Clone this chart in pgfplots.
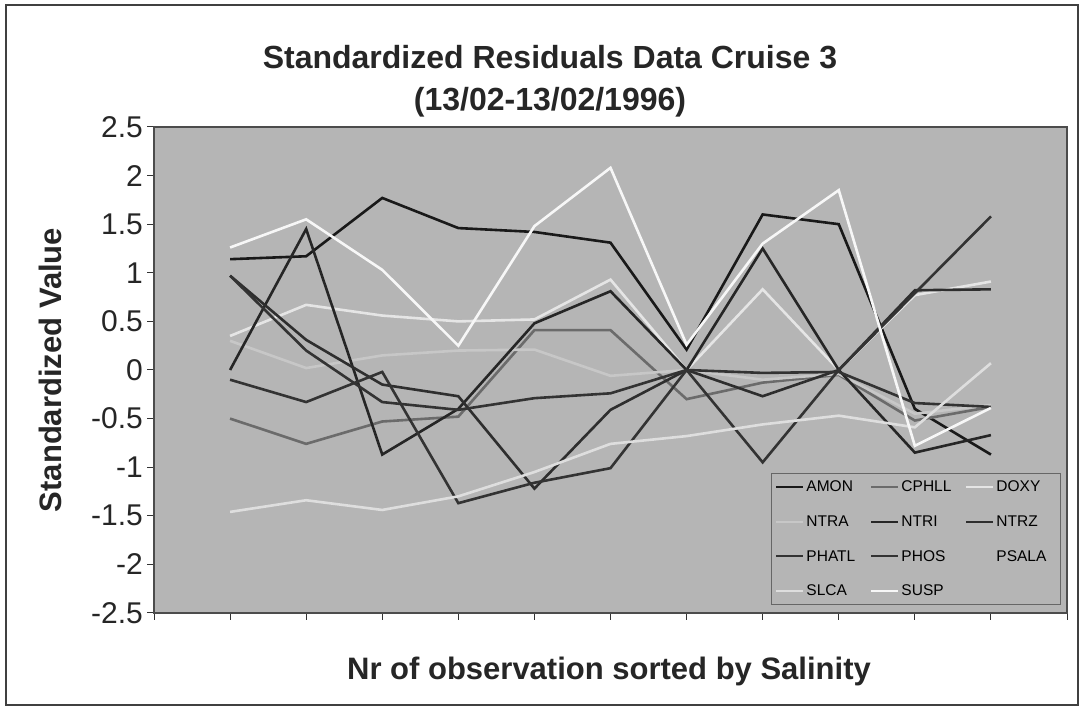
\documentclass[border=0pt]{standalone}
\usepackage{fontspec}
\setmainfont{Liberation Sans}
\usepackage{pgfplots}
\pgfplotsset{compat=1.18}
\definecolor{plotbg}{gray}{0.71}
\begin{document}
\begin{tikzpicture}[x=1pt,y=1pt]
\useasboundingbox (0,0) rectangle (1084,708);
\fill[white] (0,0) rectangle (1084,708);
\draw[line width=1.6pt, black!75] (6,3) rectangle (1078,703);
\node[anchor=base, font=\bfseries\fontsize{32}{32}\selectfont, text=black!85] at (550,639.5) {Standardized Residuals Data Cruise 3};
\node[anchor=base, font=\bfseries\fontsize{32}{32}\selectfont, text=black!85] at (550,597.5) {(13/02-13/02/1996)};
\node[anchor=base, font=\bfseries\fontsize{31}{31}\selectfont, text=black!85] at (609,28.5) {Nr of observation sorted by Salinity};
\node[anchor=base, rotate=90, font=\bfseries\fontsize{31}{31}\selectfont, text=black!85] at (61,338) {Standardized Value};
\begin{axis}[
  at={(154pt,95pt)}, anchor=south west,
  width=913pt, height=486pt, scale only axis,
  xmin=0, xmax=12, ymin=-2.5, ymax=2.5,
  xtick={0,1,2,3,4,5,6,7,8,9,10,11,12}, xticklabels={},
  ytick={-2.5,-2,-1.5,-1,-0.5,0,0.5,1,1.5,2,2.5},
  yticklabels={-2.5,-2,-1.5,-1,-0.5,0,0.5,1,1.5,2,2.5},
  yticklabel style={font=\fontsize{30}{30}\selectfont, text=black!85, inner sep=0pt, xshift=-4pt},
  tick align=outside, major tick length=7pt,
  tick style={black!80, line width=1pt},
  xtick pos=bottom, ytick pos=left,
  axis background/.style={fill=plotbg},
  axis line style={draw=black!70, line width=1.3pt},
  every axis plot/.append style={line width=2.6pt, mark=none},
  legend columns=3,
  legend cell align=left,
  legend image code/.code={\draw[#1, line width=2pt] (0pt,0pt) -- (27pt,0pt);},
  legend style={at={(0.9934,0.0165)}, anchor=south east, draw=black!60, line width=1pt, fill=none,
    font=\fontsize{15.5}{15.5}\selectfont, inner xsep=4pt, inner ysep=5pt, row sep=18.5pt,
    /tikz/every even column/.append style={column sep=4pt}},
]
% AMON
\addplot[black!90] coordinates {(1,1.14)(2,1.17)(3,1.77)(4,1.46)(5,1.42)(6,1.31)(7,0.21)(8,1.60)(9,1.50)(10,-0.40)(11,-0.87)};
\addlegendentry{\makebox[58pt][l]{AMON}}
% CPHLL
\addplot[black!58] coordinates {(1,-0.50)(2,-0.76)(3,-0.53)(4,-0.48)(5,0.41)(6,0.41)(7,-0.30)(8,-0.13)(9,-0.05)(10,-0.52)(11,-0.38)};
\addlegendentry{\makebox[58pt][l]{CPHLL}}
% DOXY
\addplot[black!10] coordinates {(1,0.35)(2,0.67)(3,0.56)(4,0.50)(5,0.52)(6,0.93)(7,0.00)(8,0.83)(9,0.00)(10,0.77)(11,0.91)};
\addlegendentry{\makebox[58pt][l]{DOXY}}
% NTRA
\addplot[black!22] coordinates {(1,0.30)(2,0.02)(3,0.15)(4,0.20)(5,0.21)(6,-0.06)(7,0.00)(8,-0.10)(9,-0.04)(10,-0.45)(11,-0.36)};
\addlegendentry{\makebox[58pt][l]{NTRA}}
% NTRI
\addplot[black!85] coordinates {(1,0.00)(2,1.45)(3,-0.87)(4,-0.40)(5,0.48)(6,0.81)(7,0.00)(8,1.25)(9,0.00)(10,-0.85)(11,-0.67)};
\addlegendentry{\makebox[58pt][l]{NTRI}}
% NTRZ
\addplot[black!82] coordinates {(1,0.97)(2,0.31)(3,-0.15)(4,-0.27)(5,-1.22)(6,-0.41)(7,0.00)(8,-0.27)(9,0.00)(10,0.82)(11,0.83)};
\addlegendentry{\makebox[58pt][l]{NTRZ}}
% PHATL
\addplot[black!80] coordinates {(1,0.97)(2,0.20)(3,-0.33)(4,-0.41)(5,-0.29)(6,-0.24)(7,0.00)(8,-0.03)(9,-0.02)(10,-0.34)(11,-0.38)};
\addlegendentry{\makebox[58pt][l]{PHATL}}
% PHOS
\addplot[black!80] coordinates {(1,-0.10)(2,-0.33)(3,-0.02)(4,-1.37)(5,-1.16)(6,-1.01)(7,0.00)(8,-0.95)(9,0.00)(10,0.79)(11,1.58)};
\addlegendentry{\makebox[58pt][l]{PHOS}}
% PSALA (drawn in the background colour, so not visible)
\addlegendimage{plotbg, opacity=0}
\addlegendentry{\makebox[58pt][l]{PSALA}}
% SLCA
\addplot[black!13] coordinates {(1,-1.46)(2,-1.34)(3,-1.44)(4,-1.30)(5,-1.05)(6,-0.76)(7,-0.68)(8,-0.56)(9,-0.47)(10,-0.59)(11,0.07)};
\addlegendentry{\makebox[58pt][l]{SLCA}}
% SUSP
\addplot[black!3] coordinates {(1,1.26)(2,1.55)(3,1.03)(4,0.25)(5,1.48)(6,2.08)(7,0.26)(8,1.30)(9,1.85)(10,-0.78)(11,-0.39)};
\addlegendentry{\makebox[58pt][l]{SUSP}}
\end{axis}
\end{tikzpicture}
\end{document}
